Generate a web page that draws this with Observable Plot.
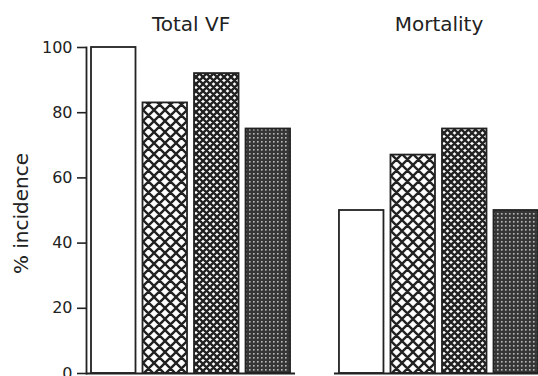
<!DOCTYPE html>
<html><head><meta charset="utf-8">
<script src="https://cdn.jsdelivr.net/npm/d3@7"></script>
<script src="https://cdn.jsdelivr.net/npm/@observablehq/plot@0.6"></script>
<style>
html,body{margin:0;padding:0;background:#fff;overflow:hidden;}
#chart{width:538px;height:376px;overflow:hidden;}
#chart svg{max-width:none !important;}
</style></head><body><div id="chart"></div>
<script>
const panels = ["Total VF", "Mortality"];
const groups = ["1", "2", "3", "4"];
const totalVF = [100, 83, 92, 75];
const mortality = [50, 67, 75, 50];
const yTicks = [0, 20, 40, 60, 80, 100];
const yLabel = "% incidence";
const fills = ["#ffffff", "url(#hatchCoarse)", "url(#hatchFine)", "url(#dotsDark)"];

const data = [];
groups.forEach((g, i) => data.push({panel: panels[0], group: g, value: totalVF[i]}));
groups.forEach((g, i) => data.push({panel: panels[1], group: g, value: mortality[i]}));

const ink = "#222222";

const chart = Plot.plot({
  width: 543, height: 376,
  marginLeft: 86, marginRight: 0, marginTop: 47, marginBottom: 3,
  style: {fontFamily: "'DejaVu Sans', sans-serif", color: ink, background: "#fff", maxWidth: "none"},
  fx: {domain: panels, paddingInner: 0.157, paddingOuter: 0, round: false, label: null},
  x: {domain: groups, paddingInner: 0.136, paddingOuter: 0.097, round: false, axis: null},
  y: {domain: [0, 100], ticks: yTicks, label: null},
  color: {type: "ordinal", domain: groups, range: fills},
  marks: [
    Plot.barY(data, {fx: "panel", x: "group", y: "value", fill: "group", stroke: ink, strokeWidth: 1.8}),
    Plot.ruleY([0], {stroke: ink, strokeWidth: 2}),
    Plot.frame({anchor: "left", facet: "super", stroke: ink, strokeWidth: 1.8}),
    Plot.axisY({ticks: yTicks, tickSize: 9, tickPadding: 5, fontSize: 16, label: null, strokeWidth: 1.6}),
    Plot.axisFx({anchor: "top", tickSize: 0, tickPadding: 17, fontSize: 20, label: null}),
    Plot.text([{panel: panels[0], t: yLabel}], {fx: "panel", text: "t", frameAnchor: "left", textAnchor: "middle", rotate: -90, dx: -65, dy: 3, fontSize: 20, fill: ink})
  ]
});
chart.style.maxWidth = "none";

const defs = d3.select(chart).insert("defs", ":first-child");
function hatch(id, p, sw) {
  const pat = defs.append("pattern").attr("id", id).attr("patternUnits", "userSpaceOnUse")
    .attr("width", p).attr("height", p);
  pat.append("rect").attr("width", p).attr("height", p).attr("fill", "#fff");
  const d = [];
  for (const k of [-p, 0, p]) {
    d.push(`M${k},0L${k + p},${p}`);
    d.push(`M${k + p},0L${k},${p}`);
  }
  pat.append("path").attr("d", d.join("")).attr("stroke", ink).attr("stroke-width", sw).attr("fill", "none");
}
hatch("hatchCoarse", 11, 2.4);
hatch("hatchFine", 7, 2.4);
const dots = defs.append("pattern").attr("id", "dotsDark").attr("patternUnits", "userSpaceOnUse")
  .attr("width", 4).attr("height", 4);
dots.append("rect").attr("width", 4).attr("height", 4).attr("fill", "#363636");
dots.append("rect").attr("x", 1).attr("y", 1).attr("width", 1.6).attr("height", 1.6).attr("fill", "#bdbdbd");

document.getElementById("chart").appendChild(chart);
</script></body></html>
